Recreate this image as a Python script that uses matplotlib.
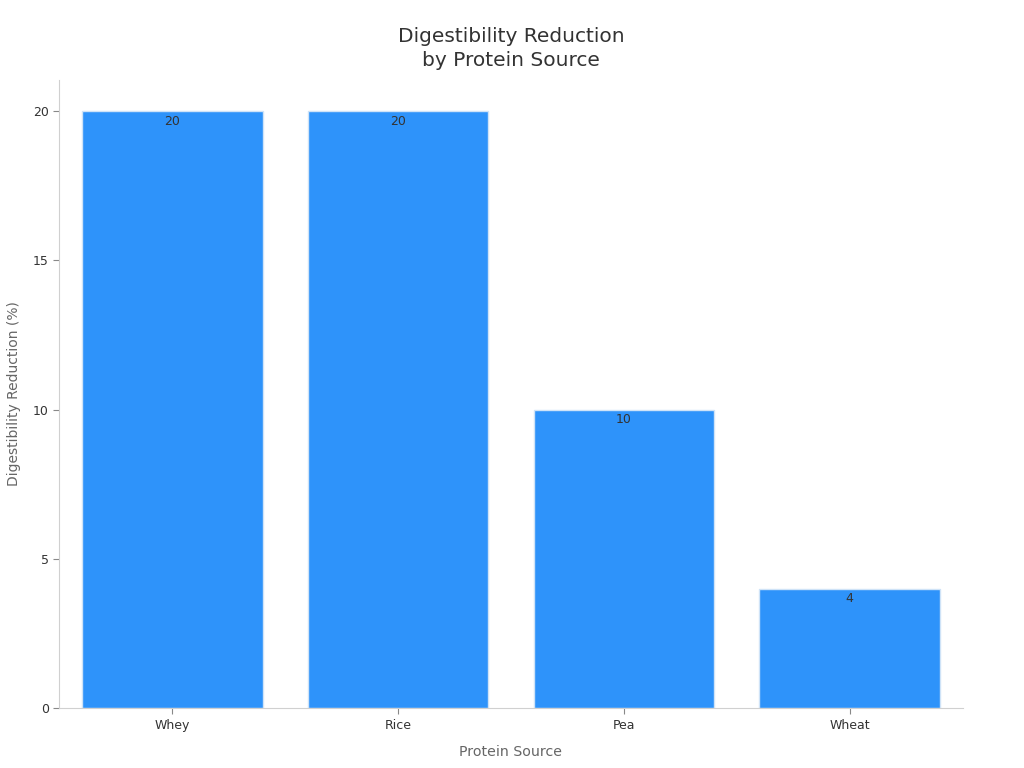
import matplotlib
matplotlib.use('Agg')
import matplotlib.pyplot as plt

sources = ['Whey', 'Rice', 'Pea', 'Wheat']
reduction = [20, 20, 10, 4]

fig, ax = plt.subplots(figsize=(10.24, 7.68), dpi=100)
fig.subplots_adjust(left=0.058, right=0.94, top=0.896, bottom=0.078)

bars = ax.bar(sources, reduction, width=0.8, color='#2E93FA', edgecolor='#cfe3f7', linewidth=1)
for b, v in zip(bars, reduction):
    ax.annotate(str(v), (b.get_x() + b.get_width() / 2, v), xytext=(0, -2.5),
                textcoords='offset points', ha='center', va='top', fontsize=9, color='#333333')

ax.set_xlim(-0.5, 3.5)
ax.set_ylim(0, 21.05)
ax.set_yticks([0, 5, 10, 15, 20])
ax.set_title('Digestibility Reduction\nby Protein Source', fontsize=14.5, color='#333333',
             pad=10, linespacing=1.35)
ax.set_xlabel('Protein Source', fontsize=10.2, color='#666666', labelpad=10)
ax.set_ylabel('Digestibility Reduction (%)', fontsize=10, color='#666666', labelpad=9)

for s in ['top', 'right']:
    ax.spines[s].set_visible(False)
for s in ['left', 'bottom']:
    ax.spines[s].set_color('#d0d0d0')
ax.tick_params(axis='both', colors='#888888', labelcolor='#333333', labelsize=9, length=4)

plt.savefig('out.png')
plt.close()
